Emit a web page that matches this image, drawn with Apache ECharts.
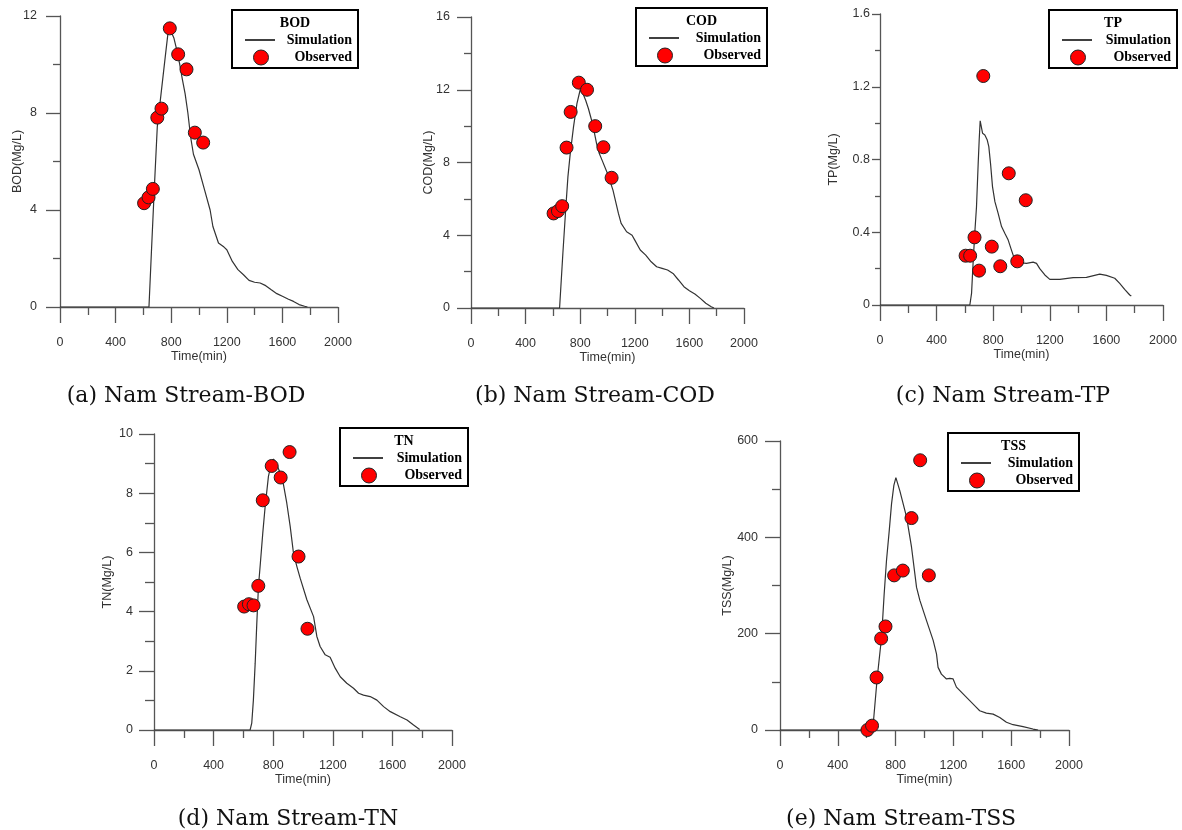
<!DOCTYPE html>
<html>
<head>
<meta charset="utf-8">
<title>Nam Stream</title>
<script src="https://cdn.jsdelivr.net/npm/echarts@6.0.0/dist/echarts.min.js"></script>
<style>
  html, body { margin: 0; padding: 0; background: #fff; }
  #chart { width: 1182px; height: 830px; }
</style>
</head>
<body>
<div id="chart"></div>
<script>
// observed samples are taken at the same times for every parameter
const obsTime = [605, 637, 668, 700, 730, 790, 850, 910, 970, 1030];

const bodObs = [4.28, 4.52, 4.87, 7.81, 8.18, 11.49, 10.42, 9.8, 7.19, 6.78];
const codObs = [5.2, 5.33, 5.6, 8.82, 10.78, 12.39, 12.0, 10.0, 8.84, 7.16];
const tpObs = [0.271, 0.271, 0.372, 0.189, 1.259, 0.321, 0.213, 0.724, 0.24, 0.576];
const tnObs = [4.17, 4.25, 4.21, 4.87, 7.76, 8.92, 8.53, 9.39, 5.86, 3.42];
const tssObs = [0, 9, 109, 190, 215, 321, 331, 440, 560, 321];

// simulation curves (time in min, value in Mg/L)
const bodSimT = [0, 640, 660, 680, 700, 720, 740, 760, 780, 800, 820, 840, 860, 880, 900, 920, 940, 960, 1000, 1040, 1080, 1100, 1140, 1180, 1200, 1240, 1280, 1320, 1360, 1400, 1440, 1480, 1520, 1560, 1600, 1640, 1680, 1720, 1760, 1780];
const bodSim = [0, 0, 2.57, 5.07, 7.44, 8.44, 9.45, 10.46, 11.45, 11.35, 11.08, 10.6, 10.05, 9.4, 8.8, 8.0, 7.0, 6.3, 5.66, 4.83, 4.0, 3.32, 2.64, 2.47, 2.36, 1.88, 1.54, 1.33, 1.1, 1.02, 0.99, 0.88, 0.71, 0.55, 0.44, 0.33, 0.23, 0.1, 0.03, 0];

const codSimT = [0, 649, 673, 695, 710, 727, 751, 776, 800, 820, 840, 860, 880, 900, 920, 940, 960, 1000, 1040, 1080, 1100, 1140, 1180, 1200, 1240, 1280, 1320, 1360, 1400, 1440, 1480, 1520, 1560, 1600, 1640, 1680, 1720, 1760, 1780];
const codSim = [0, 0, 3.0, 5.57, 7.21, 8.49, 9.96, 11.24, 12.0, 11.79, 11.42, 10.97, 10.42, 9.78, 9.04, 8.49, 8.13, 7.4, 6.48, 5.2, 4.65, 4.19, 4.0, 3.73, 3.19, 2.91, 2.54, 2.27, 2.18, 2.09, 1.9, 1.54, 1.17, 0.95, 0.77, 0.53, 0.26, 0.07, 0];

const tpSimT = [0, 635, 647, 659, 671, 682, 694, 701, 708, 725, 741, 758, 769, 781, 795, 812, 835, 859, 882, 906, 929, 953, 988, 1035, 1082, 1106, 1129, 1165, 1200, 1271, 1365, 1459, 1553, 1600, 1659, 1694, 1729, 1765, 1776];
const tpSim = [0, 0, 0.064, 0.247, 0.41, 0.54, 0.78, 0.907, 1.013, 0.944, 0.935, 0.907, 0.871, 0.779, 0.651, 0.568, 0.504, 0.431, 0.394, 0.357, 0.302, 0.247, 0.233, 0.229, 0.236, 0.229, 0.2, 0.165, 0.141, 0.141, 0.15, 0.152, 0.17, 0.163, 0.147, 0.119, 0.086, 0.055, 0.049];

const tnSimT = [0, 645, 656, 667, 679, 690, 701, 714, 730, 746, 768, 791, 802, 824, 847, 869, 891, 914, 936, 959, 981, 1026, 1071, 1093, 1115, 1149, 1182, 1216, 1250, 1294, 1339, 1373, 1406, 1451, 1496, 1541, 1586, 1653, 1698, 1742, 1783];
const tnSim = [0, 0, 0.23, 1.01, 2.25, 3.61, 4.85, 5.64, 6.65, 7.55, 8.57, 9.08, 9.15, 8.96, 8.68, 8.29, 7.67, 6.88, 5.98, 5.52, 5.13, 4.4, 3.83, 3.16, 2.82, 2.54, 2.46, 2.09, 1.8, 1.58, 1.41, 1.24, 1.18, 1.13, 1.01, 0.79, 0.62, 0.45, 0.34, 0.17, 0.02];

const tssSimT = [0, 634, 645, 673, 703, 721, 737, 756, 772, 788, 802, 829, 876, 910, 945, 968, 1014, 1060, 1083, 1094, 1117, 1152, 1175, 1198, 1221, 1267, 1313, 1359, 1382, 1428, 1475, 1521, 1567, 1613, 1682, 1751, 1786];
const tssSim = [0, 0, 12, 109, 193, 283, 352, 414, 470, 508, 524, 497, 442, 380, 296, 269, 227, 186, 158, 130, 116, 106, 107, 106, 89, 75, 61, 47, 40, 35, 33, 26, 16, 11, 7, 2, 0];

// layout of the five panels
const panels = [
  { name: "BOD", caption: "(a) Nam Stream-BOD", capX: 186, capY: 396,
    grid: { left: 60, top: 16, width: 278, height: 291 },
    yMax: 12, yStep: 4, tick: 14, minor: 7, margin: 23, nameGap: 36,
    simT: bodSimT, sim: bodSim, obs: bodObs, lg: [232, 10, 126] },
  { name: "COD", caption: "(b) Nam Stream-COD", capX: 595, capY: 396,
    grid: { left: 471, top: 17, width: 273, height: 291 },
    yMax: 16, yStep: 4, tick: 14, minor: 7, margin: 21, nameGap: 36,
    simT: codSimT, sim: codSim, obs: codObs, lg: [636, 8, 131] },
  { name: "TP", caption: "(c) Nam Stream-TP", capX: 1003, capY: 396,
    grid: { left: 880, top: 14, width: 283, height: 291 },
    yMax: 1.6, yStep: 0.4, tick: 8, minor: 5, margin: 10, nameGap: 40,
    simT: tpSimT, sim: tpSim, obs: tpObs, lg: [1049, 10, 128] },
  { name: "TN", caption: "(d) Nam Stream-TN", capX: 288, capY: 819,
    grid: { left: 154, top: 434, width: 298, height: 296 },
    yMax: 10, yStep: 2, tick: 15, minor: 9, margin: 21, nameGap: 40,
    simT: tnSimT, sim: tnSim, obs: tnObs, lg: [340, 428, 128] },
  { name: "TSS", caption: "(e) Nam Stream-TSS", capX: 901, capY: 819,
    grid: { left: 780, top: 441, width: 289, height: 289 },
    yMax: 600, yStep: 200, tick: 15, minor: 8, margin: 22, nameGap: 46,
    simT: tssSimT, sim: tssSim, obs: tssObs, lg: [948, 433, 131] },
];

const axisColor = "#555";
const labelFont = { color: "#333", fontSize: 12.5, fontFamily: "Liberation Sans, Arial, sans-serif" };
const serifBold = 'bold 14px "Liberation Serif", "Times New Roman", serif';
const plain = (v) => String(v);

const grids = [], xAxes = [], yAxes = [], series = [], graphics = [];

panels.forEach((p, i) => {
  grids.push(p.grid);
  xAxes.push({
    type: "value", gridIndex: i, min: 0, max: 2000, interval: 400,
    name: "Time(min)", nameLocation: "middle", nameGap: 43, nameTextStyle: labelFont,
    nameMoveOverlap: false,
    axisLine: { lineStyle: { color: axisColor, width: 1.3 } },
    axisTick: { length: 16, lineStyle: { color: axisColor, width: 1.3 } },
    minorTick: { show: true, splitNumber: 2, length: 8, lineStyle: { color: axisColor, width: 1.3 } },
    axisLabel: { ...labelFont, margin: 29, formatter: plain },
    splitLine: { show: false },
  });
  yAxes.push({
    type: "value", gridIndex: i, min: 0, max: p.yMax, interval: p.yStep,
    name: p.name + "(Mg/L)", nameLocation: "middle", nameRotate: 90, nameGap: p.nameGap,
    nameTextStyle: labelFont, nameMoveOverlap: false,
    axisLine: { show: true, lineStyle: { color: axisColor, width: 1.3 } },
    axisTick: { show: true, length: p.tick, lineStyle: { color: axisColor, width: 1.3 } },
    minorTick: { show: true, splitNumber: 2, length: p.minor, lineStyle: { color: axisColor, width: 1.3 } },
    axisLabel: { ...labelFont, margin: p.margin, formatter: plain },
    splitLine: { show: false },
  });
  series.push({
    name: "Simulation", type: "line", xAxisIndex: i, yAxisIndex: i,
    data: p.simT.map((t, k) => [t, p.sim[k]]),
    symbol: "none", lineStyle: { color: "#333", width: 1.2 }, z: 2,
  });
  series.push({
    name: "Observed", type: "scatter", xAxisIndex: i, yAxisIndex: i,
    data: obsTime.map((t, k) => [t, p.obs[k]]),
    symbolSize: 13, itemStyle: { color: "#f00", opacity: 1, borderColor: "#222", borderWidth: 1 }, z: 3,
  });

  // legend box, drawn by hand to get the boxed title look
  const [lx, ly, lw] = p.lg;
  graphics.push({
    type: "group", x: lx, y: ly, z: 10,
    children: [
      { type: "rect", shape: { x: 0, y: 0, width: lw, height: 58 },
        style: { fill: "#fff", stroke: "#000", lineWidth: 2 } },
      { type: "text", x: lw / 2, y: 13,
        style: { text: p.name, font: serifBold, fill: "#000", align: "center", verticalAlign: "middle", textAlign: "center", textVerticalAlign: "middle" } },
      { type: "line", shape: { x1: 13, y1: 30, x2: 43, y2: 30 }, style: { stroke: "#000", lineWidth: 1.5 } },
      { type: "text", x: lw - 6, y: 30,
        style: { text: "Simulation", font: serifBold, fill: "#000", align: "right", verticalAlign: "middle", textAlign: "right", textVerticalAlign: "middle" } },
      { type: "circle", shape: { cx: 29, cy: 47.5, r: 7.5 }, style: { fill: "#f00", stroke: "#222", lineWidth: 1 } },
      { type: "text", x: lw - 6, y: 47.5,
        style: { text: "Observed", font: serifBold, fill: "#000", align: "right", verticalAlign: "middle", textAlign: "right", textVerticalAlign: "middle" } },
    ],
  });
  // caption under each panel
  graphics.push({
    type: "text", x: p.capX, y: p.capY,
    style: { text: p.caption, font: '22px "DejaVu Serif", serif', fill: "#111",
      align: "center", verticalAlign: "middle", textAlign: "center", textVerticalAlign: "middle" },
  });
});

const chart = echarts.init(document.getElementById("chart"));
chart.setOption({
  animation: false,
  backgroundColor: "#fff",
  grid: grids,
  xAxis: xAxes,
  yAxis: yAxes,
  series: series,
  graphic: graphics,
});
</script>
</body>
</html>
